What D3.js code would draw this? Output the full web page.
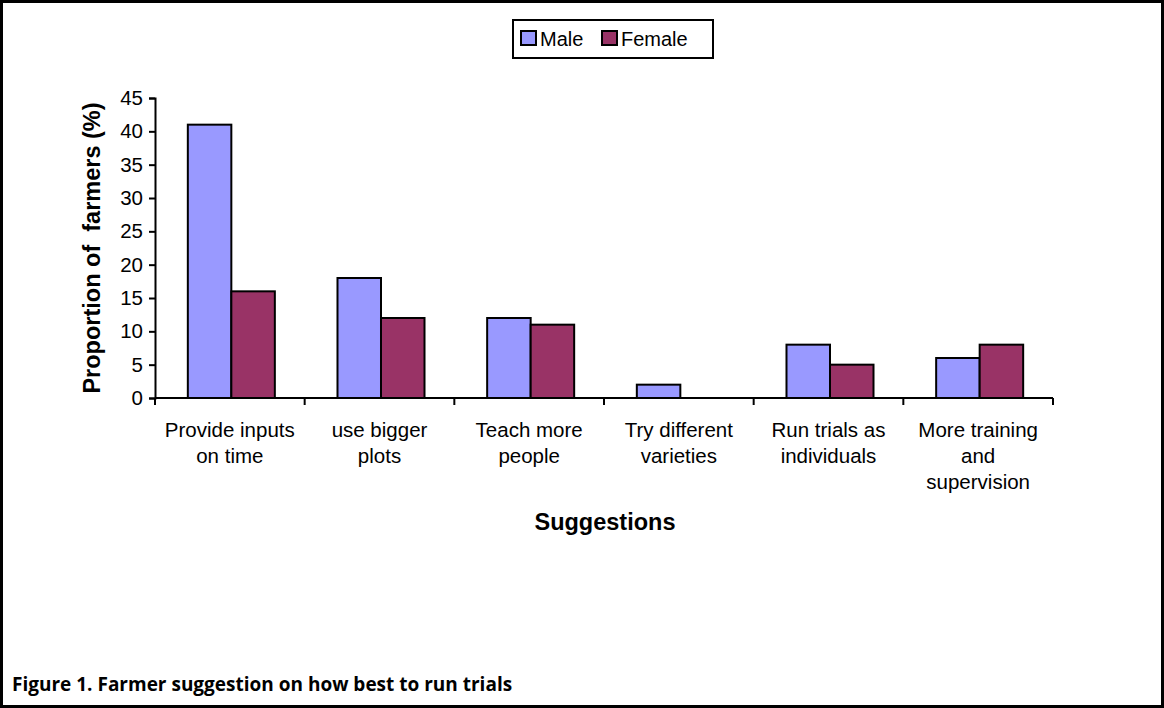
<!DOCTYPE html>
<html>
<head>
<meta charset="utf-8">
<script src="https://cdn.jsdelivr.net/npm/d3@7"></script>
<style>
  body { margin: 0; background: #fff; }
  svg text { font-family: "Liberation Sans", Arial, sans-serif; fill: #000; }
</style>
</head>
<body>
<svg id="chart" width="1164" height="708"></svg>
<script>
const width = 1164;
const height = 708;

const categories = [
    ["Provide inputs", "on time"],
    ["use bigger", "plots"],
    ["Teach more", "people"],
    ["Try different", "varieties"],
    ["Run trials as", "individuals"],
    ["More training", "and", "supervision"]
];
const seriesNames = ["Male", "Female"];
const maleValues = [41, 18, 12, 2, 8, 6];
const femaleValues = [16, 12, 11, 0, 5, 8];
const yTicks = [0, 5, 10, 15, 20, 25, 30, 35, 40, 45];
const colors = ["#9999FF", "#993366"];

const plot = { left: 155, right: 1053, top: 98, bottom: 398 };

const svg = d3.select("#chart");

// outer frame
svg.append("rect")
    .attr("x", 1.5).attr("y", 1.5)
    .attr("width", width - 3).attr("height", height - 3)
    .attr("fill", "#fff")
    .attr("stroke", "#000")
    .attr("stroke-width", 3);

// scales
const x0 = d3.scaleBand()
    .domain(d3.range(categories.length))
    .range([plot.left, plot.right])
    .paddingInner(0)
    .paddingOuter(0);
const x1 = d3.scaleBand()
    .domain(seriesNames)
    .range([0, x0.bandwidth()])
    .paddingInner(0)
    .paddingOuter(0.72);
const y = d3.scaleLinear().domain([0, 45]).range([plot.bottom, plot.top]);

// bars (group sits a touch right of the band centre, like the original)
const groups = svg.append("g").selectAll("g")
    .data(categories.map((c, i) => ({ i, values: [maleValues[i], femaleValues[i]] })))
    .join("g")
    .attr("transform", d => `translate(${x0(d.i) + 1.5},0)`);

groups.selectAll("rect")
    .data(d => d.values.map((v, k) => ({ name: seriesNames[k], v, k })).filter(e => e.v > 0))
    .join("rect")
    .attr("x", e => x1(e.name))
    .attr("y", e => y(e.v))
    .attr("width", x1.bandwidth())
    .attr("height", e => y(0) - y(e.v))
    .attr("fill", e => colors[e.k])
    .attr("stroke", "#000")
    .attr("stroke-width", 2);

// y axis
const yAxis = svg.append("g")
    .attr("transform", `translate(${plot.left},0)`)
    .call(d3.axisLeft(y).tickValues(yTicks).tickSize(6).tickPadding(6));
yAxis.select(".domain").attr("stroke", "#000").attr("stroke-width", 2);
yAxis.selectAll(".tick line").attr("stroke", "#000").attr("stroke-width", 2);
yAxis.selectAll(".tick text")
    .attr("font-size", 20.5)
    .attr("font-family", "Liberation Sans, Arial, sans-serif");

// x axis
const xBounds = d3.range(categories.length + 1).map(i => plot.left + i * x0.step());
svg.append("line")
    .attr("x1", plot.left).attr("x2", plot.right)
    .attr("y1", plot.bottom).attr("y2", plot.bottom)
    .attr("stroke", "#000").attr("stroke-width", 2);
svg.append("g").selectAll("line")
    .data(xBounds)
    .join("line")
    .attr("x1", d => d).attr("x2", d => d)
    .attr("y1", plot.bottom).attr("y2", plot.bottom + 7)
    .attr("stroke", "#000").attr("stroke-width", 2);

// category labels
svg.append("g").selectAll("text")
    .data(categories.map((c, i) => ({ c, i })))
    .join("text")
    .attr("text-anchor", "middle")
    .attr("font-size", 20.5)
    .attr("x", d => x0(d.i) + x0.bandwidth() / 2)
    .attr("y", 437)
    .each(function (d) {
        d3.select(this).selectAll("tspan")
            .data(d.c)
            .join("tspan")
            .attr("x", x0(d.i) + x0.bandwidth() / 2)
            .attr("dy", (t, j) => j === 0 ? 0 : 26)
            .text(t => t);
    });

// axis titles
svg.append("text")
    .attr("text-anchor", "middle")
    .attr("font-size", 23.5)
    .attr("font-weight", "bold")
    .attr("transform", `translate(100,${(plot.top + plot.bottom) / 2}) rotate(-90)`)
    .attr("xml:space", "preserve")
    .style("white-space", "pre")
    .text("Proportion of  farmers (%)");

svg.append("text")
    .attr("text-anchor", "middle")
    .attr("font-size", 23.5)
    .attr("font-weight", "bold")
    .attr("x", 605)
    .attr("y", 530)
    .text("Suggestions");

// legend
const legend = svg.append("g").attr("transform", "translate(513,20)");
legend.append("rect")
    .attr("width", 200).attr("height", 38)
    .attr("fill", "#fff").attr("stroke", "#000").attr("stroke-width", 2);
const legendX = [8, 89];
seriesNames.forEach((name, k) => {
    legend.append("rect")
        .attr("x", legendX[k]).attr("y", 11)
        .attr("width", 15).attr("height", 14)
        .attr("fill", colors[k]).attr("stroke", "#000").attr("stroke-width", 2);
    legend.append("text")
        .attr("x", legendX[k] + 19).attr("y", 26)
        .attr("font-size", 20)
        .text(name);
});

// caption
svg.append("text")
    .attr("x", 12)
    .attr("y", 691)
    .attr("font-size", 19)
    .attr("font-weight", "bold")
    .style("font-family", "'Open Sans', sans-serif")
    .text("Figure 1. Farmer suggestion on how best to run trials");
</script>
</body>
</html>
